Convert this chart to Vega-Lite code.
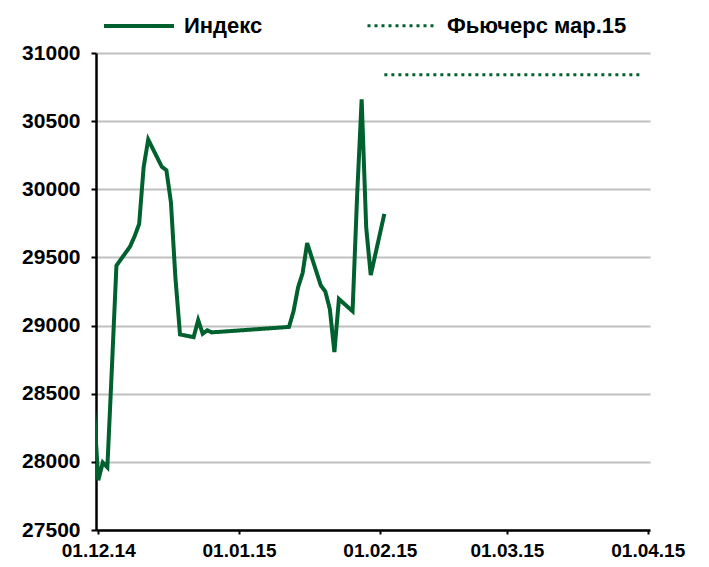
{
  "$schema": "https://vega.github.io/schema/vega-lite/v6.json",
  "width": 554,
  "height": 477,
  "autosize": {"type": "none"},
  "padding": {"left": 96, "top": 53, "right": 59, "bottom": 37},
  "background": "white",
  "config": {"view": {"stroke": null}, "font": "Liberation Sans"},
  "data": {
    "values": [
      {"date": "2014-11-28", "value": 29550, "series": "Индекс"},
      {"date": "2014-12-01", "value": 27865, "series": "Индекс"},
      {"date": "2014-12-02", "value": 27995, "series": "Индекс"},
      {"date": "2014-12-03", "value": 27960, "series": "Индекс"},
      {"date": "2014-12-04", "value": 28690, "series": "Индекс"},
      {"date": "2014-12-05", "value": 29440, "series": "Индекс"},
      {"date": "2014-12-08", "value": 29580, "series": "Индекс"},
      {"date": "2014-12-09", "value": 29655, "series": "Индекс"},
      {"date": "2014-12-10", "value": 29745, "series": "Индекс"},
      {"date": "2014-12-11", "value": 30165, "series": "Индекс"},
      {"date": "2014-12-12", "value": 30365, "series": "Индекс"},
      {"date": "2014-12-15", "value": 30165, "series": "Индекс"},
      {"date": "2014-12-16", "value": 30140, "series": "Индекс"},
      {"date": "2014-12-17", "value": 29905, "series": "Индекс"},
      {"date": "2014-12-18", "value": 29345, "series": "Индекс"},
      {"date": "2014-12-19", "value": 28935, "series": "Индекс"},
      {"date": "2014-12-22", "value": 28915, "series": "Индекс"},
      {"date": "2014-12-23", "value": 29040, "series": "Индекс"},
      {"date": "2014-12-24", "value": 28940, "series": "Индекс"},
      {"date": "2014-12-25", "value": 28965, "series": "Индекс"},
      {"date": "2014-12-26", "value": 28950, "series": "Индекс"},
      {"date": "2015-01-12", "value": 28990, "series": "Индекс"},
      {"date": "2015-01-13", "value": 29105, "series": "Индекс"},
      {"date": "2015-01-14", "value": 29280, "series": "Индекс"},
      {"date": "2015-01-15", "value": 29385, "series": "Индекс"},
      {"date": "2015-01-16", "value": 29605, "series": "Индекс"},
      {"date": "2015-01-19", "value": 29295, "series": "Индекс"},
      {"date": "2015-01-20", "value": 29250, "series": "Индекс"},
      {"date": "2015-01-21", "value": 29120, "series": "Индекс"},
      {"date": "2015-01-22", "value": 28805, "series": "Индекс"},
      {"date": "2015-01-23", "value": 29195, "series": "Индекс"},
      {"date": "2015-01-26", "value": 29105, "series": "Индекс"},
      {"date": "2015-01-27", "value": 29950, "series": "Индекс"},
      {"date": "2015-01-28", "value": 30660, "series": "Индекс"},
      {"date": "2015-01-29", "value": 29720, "series": "Индекс"},
      {"date": "2015-01-30", "value": 29370, "series": "Индекс"},
      {"date": "2015-02-02", "value": 29820, "series": "Индекс"},
      {"date": "2015-02-02", "value": 30840, "series": "Фьючерс мар.15"},
      {"date": "2015-03-31", "value": 30840, "series": "Фьючерс мар.15"}
    ]
  },
  "mark": {"type": "line", "clip": true},
  "encoding": {
    "x": {
      "field": "date",
      "type": "temporal",
      "scale": {
        "type": "utc",
        "domain": [
          {"year": 2014, "month": 11, "date": 30, "hours": 12, "utc": true},
          {"year": 2015, "month": 4, "date": 1, "hours": 12, "utc": true}
        ]
      },
      "axis": {
        "title": null,
        "values": [
          {"year": 2014, "month": 12, "date": 1, "utc": true},
          {"year": 2015, "month": 1, "date": 1, "utc": true},
          {"year": 2015, "month": 2, "date": 1, "utc": true},
          {"year": 2015, "month": 3, "date": 1, "utc": true},
          {"year": 2015, "month": 4, "date": 1, "utc": true}
        ],
        "format": "%d.%m.%y",
        "grid": false,
        "domainColor": "black",
        "domainWidth": 2.5,
        "tickColor": "black",
        "tickWidth": 2,
        "tickSize": 4,
        "labelFont": "Liberation Sans",
        "labelFontWeight": "bold",
        "labelFontSize": 19,
        "labelColor": "black",
        "labelPadding": 7,
        "labelOverlap": false
      }
    },
    "y": {
      "field": "value",
      "type": "quantitative",
      "scale": {"domain": [27500, 31000], "nice": false, "zero": false},
      "axis": {
        "title": null,
        "values": [27500, 28000, 28500, 29000, 29500, 30000, 30500, 31000],
        "format": "d",
        "grid": true,
        "gridColor": "#c0c0c0",
        "gridWidth": 2,
        "domainColor": "black",
        "domainWidth": 2.5,
        "tickColor": "black",
        "tickWidth": 2,
        "tickSize": 5,
        "labelFont": "Liberation Sans",
        "labelFontWeight": "bold",
        "labelFontSize": 21,
        "labelColor": "black",
        "labelPadding": 11
      }
    },
    "color": {
      "field": "series",
      "type": "nominal",
      "scale": {"domain": ["Индекс", "Фьючерс мар.15"], "range": ["#00612e", "#00612e"]},
      "legend": {
        "title": null,
        "orient": "none",
        "legendX": 6,
        "legendY": -64,
        "direction": "horizontal",
        "padding": 0,
        "symbolType": "stroke",
        "symbolSize": 4900,
        "symbolStrokeWidth": 4,
        "labelFont": "Liberation Sans",
        "labelFontWeight": "bold",
        "labelFontSize": 22,
        "labelColor": "black",
        "labelOffset": 8,
        "labelLimit": 400,
        "columnPadding": 98
      }
    },
    "strokeDash": {
      "field": "series",
      "type": "nominal",
      "scale": {"domain": ["Индекс", "Фьючерс мар.15"], "range": [[1, 0], [3, 4]]},
      "legend": {
        "title": null,
        "orient": "none",
        "legendX": 6,
        "legendY": -64,
        "direction": "horizontal",
        "padding": 0,
        "symbolType": "stroke",
        "symbolSize": 4900,
        "symbolStrokeWidth": 4,
        "labelFont": "Liberation Sans",
        "labelFontWeight": "bold",
        "labelFontSize": 22,
        "labelColor": "black",
        "labelOffset": 8,
        "labelLimit": 400,
        "columnPadding": 98
      }
    },
    "strokeWidth": {
      "field": "series",
      "type": "ordinal",
      "scale": {"domain": ["Индекс", "Фьючерс мар.15"], "range": [4, 3]},
      "legend": null
    }
  }
}
